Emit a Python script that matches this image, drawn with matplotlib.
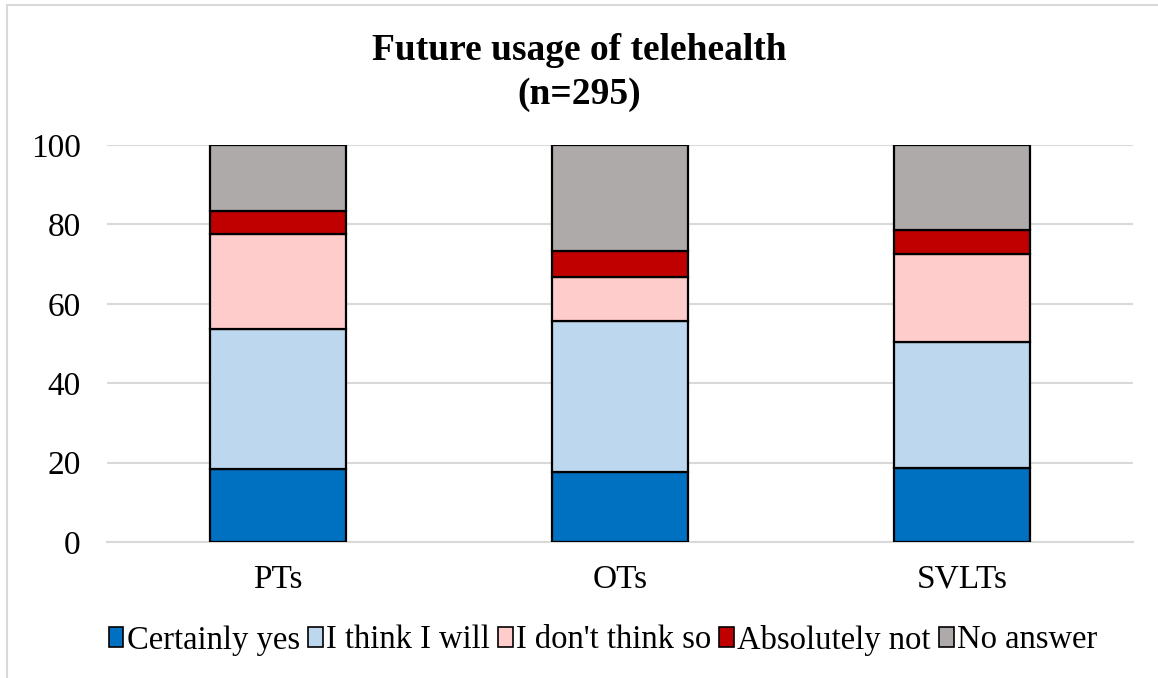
import numpy as np
import matplotlib.pyplot as plt
from matplotlib.lines import Line2D

plt.rcParams['font.family'] = ['Liberation Serif', 'DejaVu Serif']

groups = ["PTs", "OTs", "SVLTs"]
answers = ["Certainly yes", "I think I will", "I don't think so", "Absolutely not", "No answer"]
colors = ["#0070C0", "#BDD7EE", "#FFCCCC", "#C00000", "#AEAAAA"]

# percentage of respondents per answer, per profession
certainly_yes = [18.4, 17.6, 18.7]
think_will = [35.3, 38.0, 31.6]
dont_think = [23.9, 11.2, 22.2]
absolutely_not = [5.7, 6.6, 6.0]
no_answer = [16.7, 26.6, 21.5]
series = [certainly_yes, think_will, dont_think, absolutely_not, no_answer]

fig = plt.figure(figsize=(11.58, 6.78), dpi=100)
ax = fig.add_axes([107 / 1158, 1 - 542 / 678, 1026 / 1158, 397 / 678])

x = np.arange(len(groups))
bottom = np.zeros(len(groups))
for name, vals, col in zip(answers, series, colors):
    ax.bar(x, vals, width=0.40, bottom=bottom, color=col, edgecolor="black",
           linewidth=1.6, label=name, zorder=3)
    bottom += np.array(vals)

ax.set_xlim(-0.5, 2.5)
ax.set_ylim(0, 100)
ax.set_yticks(range(0, 101, 20))
ax.set_xticks(x)
ax.set_xticklabels(groups)
ax.tick_params(axis="both", length=0, labelsize=24, colors="black")
ax.tick_params(axis="y", pad=19)
ax.tick_params(axis="x", pad=16)
ax.grid(axis="y", color="#D9D9D9", linewidth=1.5, zorder=0)
for side in ["top", "right", "left"]:
    ax.spines[side].set_visible(False)
ax.spines["bottom"].set_color("#D9D9D9")
ax.spines["bottom"].set_linewidth(1.5)

fig.text(0.5, 1 - 50 / 678, "Future usage of telehealth", ha="center", va="center",
         fontsize=27, fontweight="bold")
fig.text(0.5, 1 - 94 / 678, "(n=295)", ha="center", va="center",
         fontsize=27, fontweight="bold")

leg = fig.legend(loc="center", bbox_to_anchor=(603 / 1158, 1 - 640 / 678), ncol=5,
                 frameon=False, fontsize=23.5, handlelength=0.45, handleheight=0.6,
                 handletextpad=0.1, columnspacing=0.25)
for h in leg.legend_handles:
    h.set_linewidth(1.2)

# light frame around the chart area
fig.add_artist(Line2D([7.5 / 1158, 7.5 / 1158], [0, 1 - 4.5 / 678], transform=fig.transFigure,
                      color="#D9D9D9", linewidth=1.5))
fig.add_artist(Line2D([7.5 / 1158, 1], [1 - 4.5 / 678, 1 - 4.5 / 678], transform=fig.transFigure,
                      color="#D9D9D9", linewidth=1.5))

fig.savefig("out.png", dpi=100)
